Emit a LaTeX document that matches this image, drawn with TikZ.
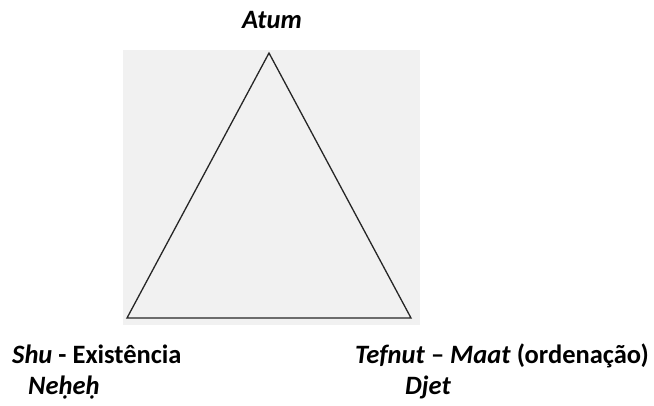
\documentclass[tikz,border=0pt]{standalone}
\usepackage{fontspec}
\setmainfont{Carlito}
\usepackage{tikz}
\usetikzlibrary{positioning}

\begin{document}
\begin{tikzpicture}[
  x=1pt,y=-1pt,
  font=\fontsize{26.5}{30}\selectfont\bfseries,
  lbl/.style={inner sep=0pt,anchor=base west},
  side/.style={draw=black!85,line width=1.3pt,line join=miter},
]
\definecolor{paper}{HTML}{F1F1F1}
\useasboundingbox (0,0) rectangle (654,405);

% grey backdrop behind the triangle
\fill[paper] (123,50) rectangle (420,325);

\coordinate (apex) at (269,53);
\coordinate (left) at (127,318);
\coordinate (right) at (411,318);
\draw[side] (apex) -- (right) -- (left) -- cycle;

\node[inner sep=0pt,anchor=base] (atum) at (272,28) {\textit{Atum}};
\node[lbl] (shu) at (12,363) {\textit{Shu} - Existência};
\node[lbl] (neheh) at (28,394) {\textit{Neḥeḥ}};
\node[lbl] (tefnut) at (355,363) {\textit{Tefnut} – \textit{Maat} (ordenação)};
\node[lbl] (djet) at (405,394) {\textit{Djet}};
\end{tikzpicture}
\end{document}
